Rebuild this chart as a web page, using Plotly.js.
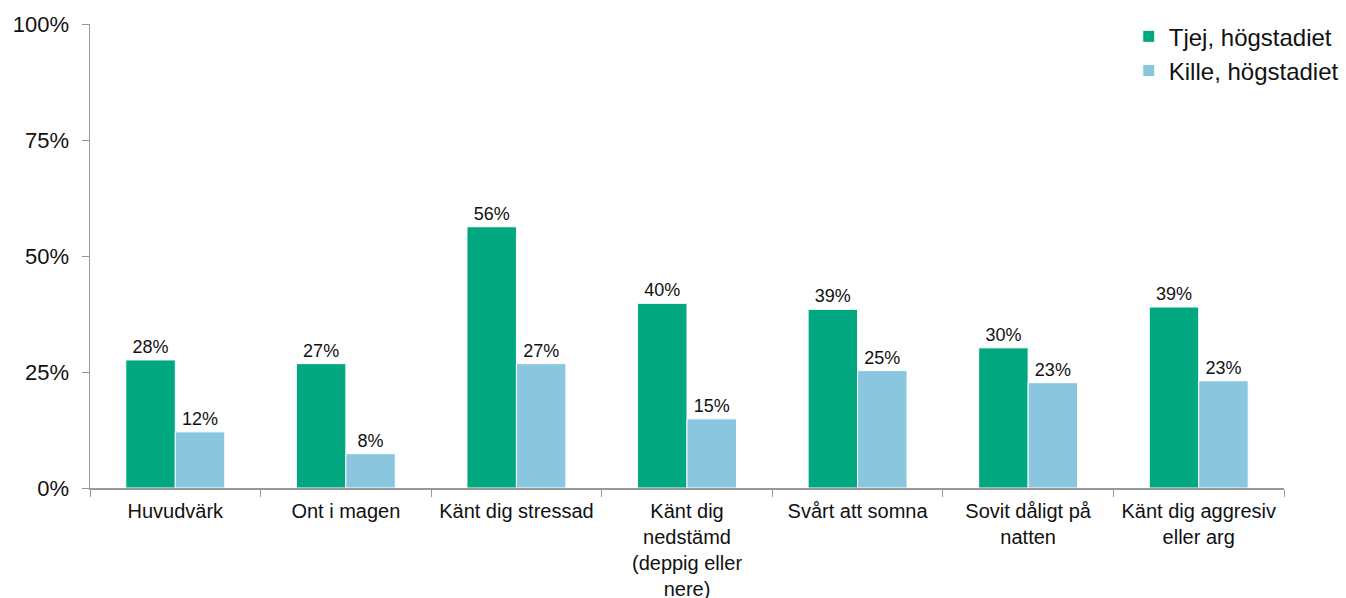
<!DOCTYPE html>
<html>
<head>
<meta charset="utf-8">
<script src="https://cdn.plot.ly/plotly-3.0.1.min.js"></script>
<style>html,body{margin:0;padding:0;background:#fff;}#chart{width:1346px;height:598px;}</style>
</head>
<body>
<div id="chart"></div>
<script>
const categories = [
  "Huvudvärk",
  "Ont i magen",
  "Känt dig stressad",
  "Känt dig<br>nedstämd<br>(deppig eller<br>nere)",
  "Svårt att somna",
  "Sovit dåligt på<br>natten",
  "Känt dig aggresiv<br>eller arg"
];
const seriesNames = ["Tjej, högstadiet", "Kille, högstadiet"];
const tjejValues = [27.6, 26.8, 56.3, 39.8, 38.5, 30.2, 39.0];
const killeValues = [12.1, 7.4, 26.8, 14.9, 25.3, 22.7, 23.1];
const tjejLabels = ["28%", "27%", "56%", "40%", "39%", "30%", "39%"];
const killeLabels = ["12%", "8%", "27%", "15%", "25%", "23%", "23%"];
const yTickVals = [0, 25, 50, 75, 100];
const yTickText = ["0%", "25%", "50%", "75%", "100%"];

const font = "Liberation Sans, Arial, sans-serif";
const traces = [
  {
    type: "bar", name: seriesNames[0], x: categories, y: tjejValues,
    text: tjejLabels, texttemplate: "%{text}", textposition: "outside",
    cliponaxis: false,
    textfont: {size: 18, color: "#111", family: font},
    marker: {color: "#00A77F", line: {color: "#ffffff", width: 1}},
    hoverinfo: "none"
  },
  {
    type: "bar", name: seriesNames[1], x: categories, y: killeValues,
    text: killeLabels, texttemplate: "%{text}", textposition: "outside",
    cliponaxis: false,
    textfont: {size: 18, color: "#111", family: font},
    marker: {color: "#8AC7DE", line: {color: "#ffffff", width: 1}},
    hoverinfo: "none"
  }
];
const layout = {
  width: 1346, height: 598,
  margin: {l: 90, r: 62, t: 24, b: 110, autoexpand: false},
  paper_bgcolor: "#fff", plot_bgcolor: "#fff",
  font: {family: font, color: "#111"},
  barmode: "group", bargap: 0.42, bargroupgap: 0,
  showlegend: true,
  legend: {
    x: 0.87, xanchor: "left", y: 1.021, yanchor: "top",
    font: {size: 24, color: "#111", family: font},
    itemwidth: 30, tracegroupgap: 0, bgcolor: "rgba(0,0,0,0)"
  },
  xaxis: {
    type: "category", showline: true, linecolor: "#999", linewidth: 1.5,
    ticks: "outside", tickson: "boundaries", ticklen: 7, tickcolor: "#999",
    tickangle: 0,
    tickfont: {size: 20, color: "#111", family: font},
    showgrid: false, zeroline: false, fixedrange: true, ticklabelstandoff: 4
  },
  yaxis: {
    range: [0, 100], tickvals: yTickVals, ticktext: yTickText,
    showline: true, linecolor: "#999", linewidth: 1.5,
    ticks: "outside", ticklen: 7, tickcolor: "#999",
    tickfont: {size: 22, color: "#111", family: font},
    showgrid: false, zeroline: false, fixedrange: true, ticklabelstandoff: 8
  }
};
Plotly.newPlot("chart", traces, layout, {displayModeBar: false, staticPlot: true});
</script>
</body>
</html>
